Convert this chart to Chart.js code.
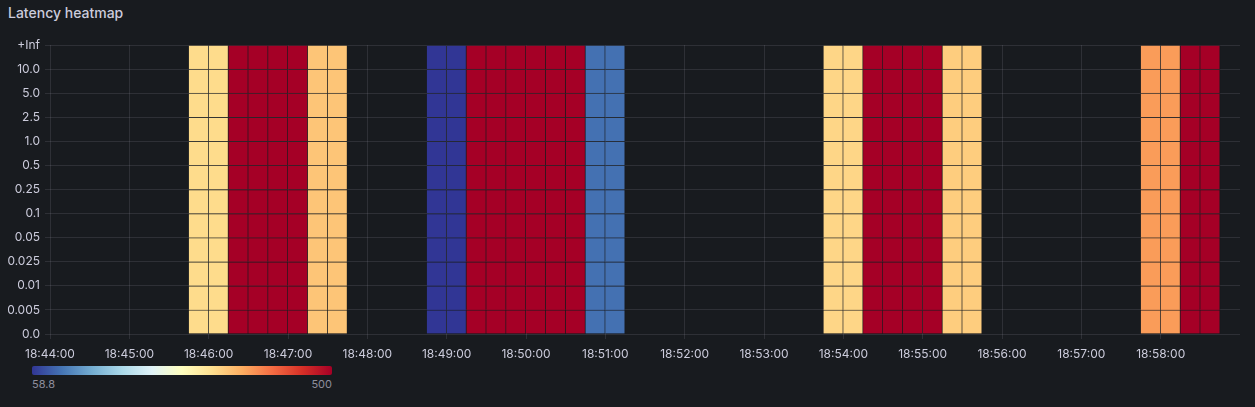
<!DOCTYPE html>
<html>
<head>
<meta charset="utf-8">
<script src="https://cdn.jsdelivr.net/npm/chart.js@4/dist/chart.umd.min.js"></script>
<style>
  html, body { margin: 0; padding: 0; background: #181b1f; }
  body { width: 1255px; height: 407px; position: relative; overflow: hidden; font-family: Inter, "Noto Sans", sans-serif; }
  #title { position: absolute; left: 8px; top: 4px; color: #ccccdc; font-size: 14px; font-weight: 500; }
  #wrap { position: absolute; left: 0; top: 0; width: 1255px; height: 362px; }
  #legend { position: absolute; left: 32px; top: 366px; width: 300px; height: 9px; border-radius: 2px; }
  .lg { position: absolute; top: 377px; color: #8e8e9c; font-size: 11px; }
</style>
</head>
<body>
<div id="title">Latency heatmap</div>
<div id="wrap"><canvas id="myChart"></canvas></div>
<div id="legend"></div>
<div class="lg" id="lgMin" style="left:32px"></div>
<div class="lg" id="lgMax" style="right:923px"></div>
<script>
// y buckets (bottom to top)
let buckets = ['0.0', '0.005', '0.01', '0.025', '0.05', '0.1', '0.25', '0.5', '1.0', '2.5', '5.0', '10.0', '+Inf'];
// time range
let startTime = '18:44:00';
let endTime = '18:59:00';
// each column is a 15s bucket starting at this time
let cellTimes = [
  '18:45:45', '18:46:00', '18:46:15', '18:46:30', '18:46:45', '18:47:00', '18:47:15', '18:47:30',
  '18:48:45', '18:49:00', '18:49:15', '18:49:30', '18:49:45', '18:50:00', '18:50:15', '18:50:30', '18:50:45', '18:51:00',
  '18:53:45', '18:54:00', '18:54:15', '18:54:30', '18:54:45', '18:55:00', '18:55:15', '18:55:30',
  '18:57:45', '18:58:00', '18:58:15', '18:58:30'
];
let cellValues = [
  327, 327, 500, 500, 500, 500, 347, 347,
  58.8, 58.8, 500, 500, 500, 500, 500, 500, 100, 100,
  332, 332, 500, 500, 500, 500, 340, 340,
  380, 380, 500, 500
];
let minValue = 58.8, maxValue = 500;
let bucketSeconds = 15;

// RdYlBu reversed
let stops = ['#313695', '#4575b4', '#74add1', '#abd9e9', '#e0f3f8', '#ffffbf', '#fee090', '#fdae61', '#f46d43', '#d73027', '#a50026'];

function hex(c) {
  return [parseInt(c.slice(1, 3), 16), parseInt(c.slice(3, 5), 16), parseInt(c.slice(5, 7), 16)];
}
function colorFor(v) {
  let t = (v - minValue) / (maxValue - minValue);
  t = Math.max(0, Math.min(1, t));
  let p = t * (stops.length - 1);
  let i = Math.min(Math.floor(p), stops.length - 2);
  let f = p - i;
  let a = hex(stops[i]), b = hex(stops[i + 1]);
  let rgb = a.map((x, k) => Math.round(x + (b[k] - x) * f));
  return `rgb(${rgb[0]},${rgb[1]},${rgb[2]})`;
}
function toSec(s) {
  let p = s.split(':').map(Number);
  return p[0] * 3600 + p[1] * 60 + p[2];
}
function fmt(sec) {
  let h = Math.floor(sec / 3600), m = Math.floor(sec / 60) % 60, s = sec % 60;
  return [h, m, s].map(x => String(x).padStart(2, '0')).join(':');
}

let t0 = toSec(startTime), t1 = toSec(endTime);
let colors = cellValues.map(colorFor);

// one stacked dataset per bucket row
let datasets = [];
for (let r = 0; r < buckets.length - 1; r++) {
  datasets.push({
    label: buckets[r],
    data: cellTimes.map(t => ({ x: toSec(t) - t0 + bucketSeconds / 2, y: 1 })),
    backgroundColor: colors,
    borderColor: 'rgba(24,27,31,0.4)',
    borderWidth: { top: 1, right: 1, left: 0, bottom: 0 },
    borderSkipped: false,
    barPercentage: 1,
    categoryPercentage: 1
  });
}

let gridColor = 'rgba(204,204,220,0.12)';

const config = {
  type: 'bar',
  data: { datasets },
  options: {
    responsive: true,
    maintainAspectRatio: false,
    animation: false,
    layout: { padding: { top: 45, right: 15, left: 0, bottom: 0 } },
    plugins: { legend: { display: false }, tooltip: { enabled: false } },
    scales: {
      x: {
        type: 'linear',
        min: 0,
        max: t1 - t0,
        offset: false,
        stacked: true,
        afterFit: s => { s.height = 28; },
        border: { display: false },
        grid: {
          offset: false,
          color: ctx => (ctx.tick && ctx.tick.value >= t1 - t0) ? 'rgba(0,0,0,0)' : gridColor,
          tickLength: 5
        },
        ticks: {
          stepSize: 60,
          autoSkip: false,
          maxRotation: 0,
          padding: 8,
          color: '#ccccdc',
          font: { family: 'Inter', size: 12 },
          callback: v => v >= t1 - t0 ? '' : fmt(t0 + v)
        }
      },
      y: {
        type: 'linear',
        min: 0,
        max: buckets.length - 1,
        stacked: true,
        afterFit: s => { s.width = 50; },
        border: { display: false },
        grid: { color: gridColor, tickLength: 5 },
        ticks: {
          stepSize: 1,
          padding: 5,
          color: '#ccccdc',
          font: { family: 'Inter', size: 12 },
          callback: v => buckets[v]
        }
      }
    }
  }
};

new Chart(document.getElementById('myChart'), config);

// colour scale legend
document.querySelector('#legend').style.background = 'linear-gradient(to right, ' + stops.join(', ') + ')';
document.querySelector('#lgMin').textContent = minValue;
document.querySelector('#lgMax').textContent = maxValue;
</script>
</body>
</html>
